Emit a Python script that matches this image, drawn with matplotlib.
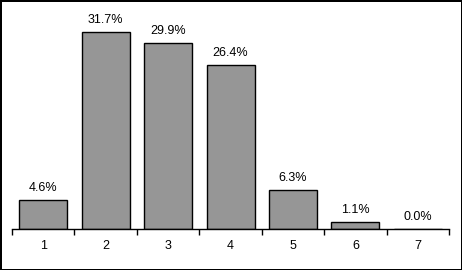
import matplotlib
matplotlib.use("Agg")
import matplotlib.pyplot as plt

categories = ["1", "2", "3", "4", "5", "6", "7"]
values = [4.6, 31.7, 29.9, 26.4, 6.3, 1.1, 0.0]

plt.rcParams['font.family'] = ['Liberation Sans', 'DejaVu Sans']

fig = plt.figure(figsize=(4.62, 2.70), dpi=100)
fig.patch.set_edgecolor('black')
fig.patch.set_linewidth(1.0)
ax = fig.add_axes([0.026, 0.152, 0.946, 0.805])

x = list(range(len(categories)))
ax.bar(x, values, width=0.77, color='#969696', edgecolor='black', linewidth=1)
for xi, v in zip(x, values):
    ax.text(xi, v + 1.0, f"{v:.1f}%", ha='center', va='bottom', fontsize=9)

ax.set_xlim(-0.5, len(categories) - 0.5)
ax.set_ylim(0, 35)
ax.set_yticks([])
ax.set_xticks(x)
ax.set_xticklabels(categories, fontsize=9)
ax.tick_params(axis='x', which='major', length=0, pad=8)
ax.set_xticks([i - 0.5 for i in range(len(categories) + 1)], minor=True)
ax.tick_params(axis='x', which='minor', length=4, width=1, direction='out')
for s in ['left', 'top', 'right']:
    ax.spines[s].set_visible(False)
ax.spines['bottom'].set_linewidth(1)

fig.savefig("out.png", dpi=100, edgecolor=fig.get_edgecolor())
